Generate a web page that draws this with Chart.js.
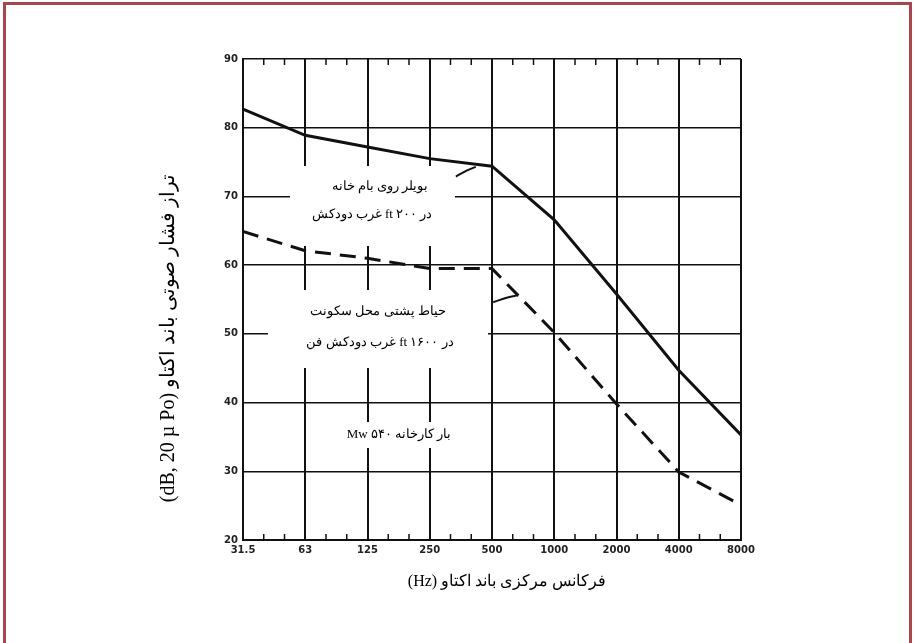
<!DOCTYPE html>
<html>
<head>
<meta charset="utf-8">
<script src="https://cdn.jsdelivr.net/npm/chart.js@4.4.0/dist/chart.umd.min.js"></script>
<style>
  html, body { margin: 0; padding: 0; background: #fff; }
  #wrap { position: relative; width: 916px; height: 643px; overflow: hidden; }
  #wrap canvas { position: absolute; left: 0; top: 0; }
  #frame { position: absolute; left: 3px; top: 2px; width: 903px; height: 700px;
           border: 3px solid #a5474d; pointer-events: none; }
</style>
</head>
<body>
<div id="wrap">
  <canvas id="chart" width="916" height="643"></canvas>
  <div id="frame"></div>
</div>
<script>
// octave band centre frequencies (Hz)
const freqLabels = ['31.5', '63', '125', '250', '500', '1000', '2000', '4000', '8000'];
const dbMin = 20;
const dbMax = 90;

// sound pressure level per band, dB
const roofBoiler = [82.7, 78.9, 77.2, 75.5, 74.4, 66.6, 55.8, 44.7, 35.3];
const backyard = [64.9, 62.1, 61.0, 59.5, 59.5, 50.2, 39.8, 29.9, 25.1];

// little leader strokes from the notes to the curves (band index, dB)
const roofLeader = [[3.42, 72.9], [3.6, 73.8], [3.74, 74.3]];
const yardLeader = [[4.02, 54.6], [4.25, 55.3], [4.42, 55.6]];

// notes
const roofNote = ['بویلر روی بام خانه', 'در ۲۰۰ ft غرب دودکش'];
const yardNote = ['حیاط پشتی محل سکونت', 'در ۱۶۰۰ ft غرب دودکش فن'];
const loadNote = 'بار کارخانه ۵۴۰ Mw';
const xTitle = '(Hz) فرکانس مرکزی باند اکتاو';
const yTitle = '(dB, 20 µ Po) تراز فشار صوتی باند اکتاو';

const toPoints = arr => arr.map((v, i) => ({ x: i, y: v }));
const pairPoints = arr => arr.map(p => ({ x: p[0], y: p[1] }));

const ink = '#111';
const tickFont = { family: 'DejaVu Sans', size: 10, weight: 'bold' };

const paperPlugin = {
  id: 'paper',
  beforeDatasetsDraw(chart) {
    const { ctx, chartArea: a, scales } = chart;
    const xs = scales.x;
    ctx.save();
    // third-octave minor ticks on top and bottom edges
    ctx.strokeStyle = ink;
    ctx.lineWidth = 1.5;
    for (let i = 0; i < freqLabels.length - 1; i++) {
      for (const k of [1 / 3, 2 / 3]) {
        const px = xs.getPixelForValue(i + k);
        ctx.beginPath();
        ctx.moveTo(px, a.top);
        ctx.lineTo(px, a.top + 6);
        ctx.moveTo(px, a.bottom);
        ctx.lineTo(px, a.bottom - 6);
        ctx.stroke();
      }
    }
    // white note boxes over the grid
    ctx.fillStyle = '#fff';
    ctx.fillRect(290, 166, 165, 80);
    ctx.fillRect(268, 290, 220, 78);
    ctx.fillRect(338, 422, 124, 26);
    ctx.restore();
  },
  afterDatasetsDraw(chart) {
    const { ctx } = chart;
    ctx.save();
    ctx.fillStyle = '#000';
    ctx.textBaseline = 'middle';
    ctx.textAlign = 'center';
    ctx.font = '13px "Liberation Serif", "DejaVu Serif", serif';
    ctx.direction = 'rtl';
    ctx.fillText(roofNote[0], 380, 187);
    ctx.fillText(roofNote[1], 372, 215);
    ctx.fillText(yardNote[0], 378, 312);
    ctx.fillText(yardNote[1], 380, 343);
    ctx.fillText(loadNote, 399, 435);

    ctx.direction = 'ltr';
    ctx.font = '16px "Liberation Serif", "DejaVu Serif", serif';
    ctx.fillText(xTitle, 507, 582);
    ctx.font = '20px "Liberation Serif", "DejaVu Serif", serif';
    ctx.translate(169, 338);
    ctx.rotate(-Math.PI / 2);
    ctx.fillText(yTitle, 0, 0);
    ctx.restore();
  }
};

new Chart(document.getElementById('chart'), {
  type: 'line',
  data: {
    datasets: [
      {
        label: 'roof',
        data: toPoints(roofBoiler),
        borderColor: ink,
        borderWidth: 3,
        pointRadius: 0,
        tension: 0
      },
      {
        label: 'backyard',
        data: toPoints(backyard),
        borderColor: ink,
        borderWidth: 3,
        borderDash: [16, 9],
        pointRadius: 0,
        tension: 0
      },
      {
        label: 'roofLeader',
        data: pairPoints(roofLeader),
        borderColor: ink,
        borderWidth: 2,
        pointRadius: 0,
        tension: 0.4
      },
      {
        label: 'yardLeader',
        data: pairPoints(yardLeader),
        borderColor: ink,
        borderWidth: 2,
        pointRadius: 0,
        tension: 0.4
      }
    ]
  },
  options: {
    responsive: false,
    animation: false,
    layout: { padding: { top: 59, right: 175, left: 0, bottom: 0 } },
    plugins: { legend: { display: false }, tooltip: { enabled: false } },
    scales: {
      x: {
        type: 'linear',
        min: 0,
        max: freqLabels.length - 1,
        afterFit: s => { s.height = 103; },
        border: { color: ink, width: 2 },
        grid: { color: ink, lineWidth: 2, drawTicks: false },
        ticks: {
          stepSize: 1,
          autoSkip: false,
          maxRotation: 0,
          padding: 4,
          color: '#222',
          font: tickFont,
          callback: v => freqLabels[v]
        }
      },
      y: {
        min: dbMin,
        max: dbMax,
        afterFit: s => { s.width = 243; },
        border: { color: ink, width: 2 },
        grid: { color: ink, lineWidth: 1.5, drawTicks: false },
        ticks: {
          stepSize: 10,
          padding: 5,
          color: '#222',
          font: tickFont
        }
      }
    }
  },
  plugins: [paperPlugin]
});
</script>
</body>
</html>
